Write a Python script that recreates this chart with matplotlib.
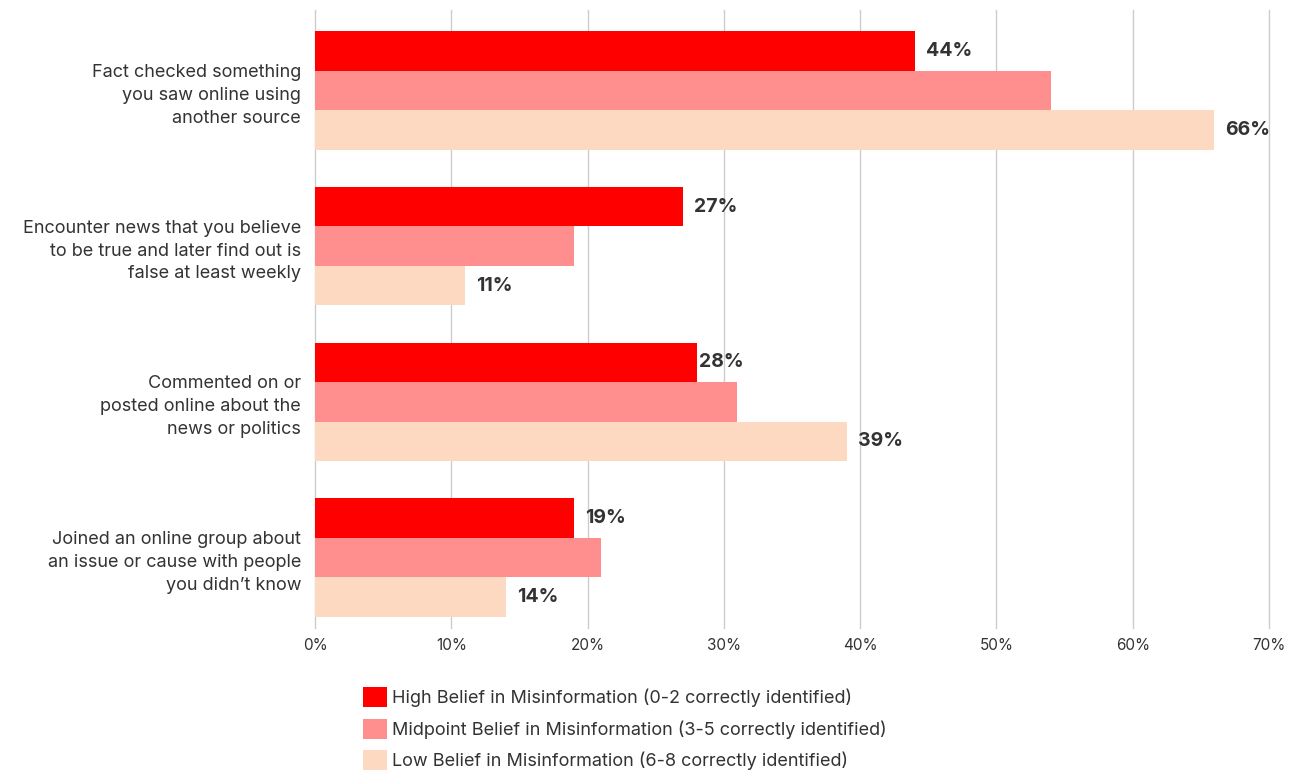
import matplotlib
matplotlib.use("Agg")
import matplotlib.pyplot as plt
import numpy as np

categories = [
    "Fact checked something\nyou saw online using\nanother source",
    "Encounter news that you believe\nto be true and later find out is\nfalse at least weekly",
    "Commented on or\nposted online about the\nnews or politics",
    "Joined an online group about\nan issue or cause with people\nyou didn\u2019t know",
]
series_names = [
    "High Belief in Misinformation (0-2 correctly identified)",
    "Midpoint Belief in Misinformation (3-5 correctly identified)",
    "Low Belief in Misinformation (6-8 correctly identified)",
]
high = [44, 27, 28, 19]
mid = [54, 19, 31, 21]
low = [66, 11, 39, 14]
x_ticks = [0, 10, 20, 30, 40, 50, 60, 70]

colors = ["#FF0000", "#FF8F8F", "#FCD9C0"]
text_color = "#333333"
plt.rcParams['font.family'] = ['Inter', 'DejaVu Sans']

fig = plt.figure(figsize=(12.97, 7.73), dpi=100)
W, H = 1297, 773
ax = fig.add_axes([315 / W, 1 - 628 / H, (1269 - 315) / W, (628 - 10) / H])

y = np.arange(len(categories))
bh = 0.254
series = [high, mid, low]
for i, (vals, c, name) in enumerate(zip(series, colors, series_names)):
    ax.barh(y + (i - 1) * bh, vals, height=bh, color=c, label=name, zorder=3)

for i in (0, 2):
    for j, v in enumerate(series[i]):
        pad = 2 if (i == 0 and j == 2) else 8
        ax.annotate(f"{v}%", xy=(v, y[j] + (i - 1) * bh), xytext=(pad, 0),
                    textcoords="offset points", va="center", ha="left",
                    fontsize=14, fontweight="bold", color=text_color, zorder=4)

ax.set_xlim(0, 70)
ax.set_ylim(3.453, -0.517)
ax.set_xticks(x_ticks)
ax.set_xticklabels([f"{t}%" for t in x_ticks], fontsize=11, color=text_color)
ax.set_yticks(y)
ax.set_yticklabels(categories, fontsize=13, color=text_color, linespacing=1.45)
ax.tick_params(axis="y", length=0, pad=10)
ax.tick_params(axis="x", length=0, pad=7)
ax.grid(axis="x", color="#CCCCCC", linewidth=1, zorder=0)
for gl in ax.get_xgridlines():
    gl.set_clip_on(False)
for s in ax.spines.values():
    s.set_visible(False)

leg = fig.legend(loc="upper left", bbox_to_anchor=(356 / W, 1 - 680 / H), frameon=False,
                 fontsize=13, handlelength=1.3, handleheight=1.3, handletextpad=0.3,
                 labelspacing=0.65, labelcolor=text_color, borderaxespad=0)

fig.savefig("out.png", dpi=100)
